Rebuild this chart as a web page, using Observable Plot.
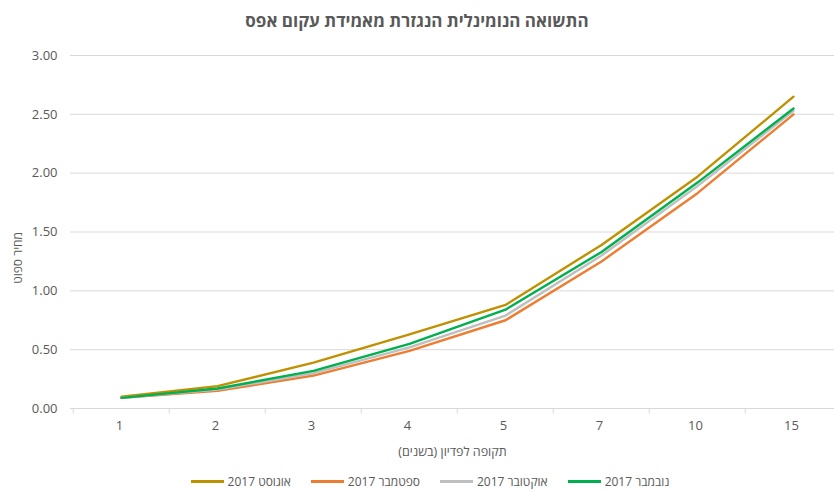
<!DOCTYPE html>
<html><head><meta charset="utf-8">
<script src="https://cdn.jsdelivr.net/npm/d3@7"></script>
<script src="https://cdn.jsdelivr.net/npm/@observablehq/plot@0.6"></script>
<style>
body{margin:0;background:#fff;font-family:"Open Sans","DejaVu Sans",sans-serif;overflow:hidden}
#wrap{width:834px;height:492px;position:relative;overflow:hidden}
#title{height:40px;line-height:42px;text-align:center;font-size:17px;font-weight:bold;color:#595959}
#chart svg{display:block;overflow:hidden}
#legend{position:absolute;left:0;top:472px;width:834px;height:18px;display:flex;justify-content:center;align-items:center;padding-left:26px;box-sizing:border-box;font-size:12px;color:#595959}
.item{display:flex;align-items:center;margin:0 10px}
.sw{width:33px;height:3px;margin-right:4px}
</style></head>
<body><div id="wrap">
<div id="title" dir="rtl">התשואה הנומינלית הנגזרת מאמידת עקום אפס</div>
<div id="chart"></div>
<div id="legend"></div>
</div>
<script>
const terms = ["1","2","3","4","5","7","10","15"];
const seriesNames = ["אוגוסט 2017","ספטמבר 2017","אוקטובר 2017","נובמבר 2017"];
const seriesColors = ["#BF9000","#ED7D31","#BFBFBF","#00B050"];
const aug = [0.10, 0.19, 0.39, 0.63, 0.88, 1.39, 1.97, 2.65];
const sep = [0.09, 0.15, 0.28, 0.49, 0.75, 1.25, 1.83, 2.50];
const oct = [0.09, 0.16, 0.30, 0.52, 0.79, 1.30, 1.89, 2.53];
const nov = [0.09, 0.17, 0.32, 0.55, 0.84, 1.33, 1.92, 2.55];
const yTicks = [0, 0.5, 1, 1.5, 2, 2.5, 3];
const yLabel = "מחיר ספוט";
const xLabel = "תקופה לפדיון (בשנים)";

const allSeries = [aug, sep, oct, nov];
const rows = [];
allSeries.forEach((vals, i) => vals.forEach((v, j) => rows.push({series: seriesNames[i], term: terms[j], value: v})));

const x0 = 70, x1 = 843;
const step = (x1 - x0) / terms.length;

const plot = Plot.plot({
  width: 834, height: 420,
  marginTop: 15, marginBottom: 52, marginLeft: 70, marginRight: 0,
  style: {fontFamily: '"Open Sans","DejaVu Sans",sans-serif', fontSize: "13px", color: "#595959", background: "#fff"},
  x: {type: "point", domain: terms, range: [x0, x1], padding: 0.5, align: 0.5},
  y: {domain: [0, 3]},
  color: {domain: seriesNames, range: seriesColors},
  marks: [
    Plot.ruleY(yTicks.filter(d => d > 0), {stroke: "#D9D9D9", strokeWidth: 1}),
    Plot.ruleY([0], {stroke: "#D9D9D9", strokeWidth: 1}),
    Plot.ruleX(terms, {x: d => d, y1: 0, y2: -0.045, dx: -step / 2, stroke: "#D9D9D9"}),
    Plot.axisY({ticks: yTicks, tickFormat: d3.format(".2f"), tickSize: 0, tickPadding: 13, label: null, fill: "#595959"}),
    Plot.axisX({tickSize: 0, tickPadding: 12, label: null, fill: "#595959", dx: -2}),
    Plot.text([xLabel], {frameAnchor: "bottom", dy: 47, fontSize: 12.5, fill: "#595959"}),
    Plot.text([yLabel], {frameAnchor: "left", rotate: -90, dx: -52, fontSize: 12, fill: "#595959"}),
    Plot.line(rows, {x: "term", y: "value", z: "series", stroke: "series", strokeWidth: 2.4, strokeLinejoin: "round"})
  ]
});
d3.select(plot).selectAll("text").filter(function(){ return /[\u0590-\u05FF]/.test(this.textContent); }).attr("direction", "rtl").style("unicode-bidi", "plaintext");
document.getElementById("chart").appendChild(plot);

const lg = d3.select("#legend");
seriesNames.forEach((n, i) => {
  const it = lg.append("div").attr("class", "item");
  it.append("div").attr("class", "sw").style("background", seriesColors[i]);
  it.append("span").attr("dir", "rtl").text(n);
});
</script>
</body></html>
